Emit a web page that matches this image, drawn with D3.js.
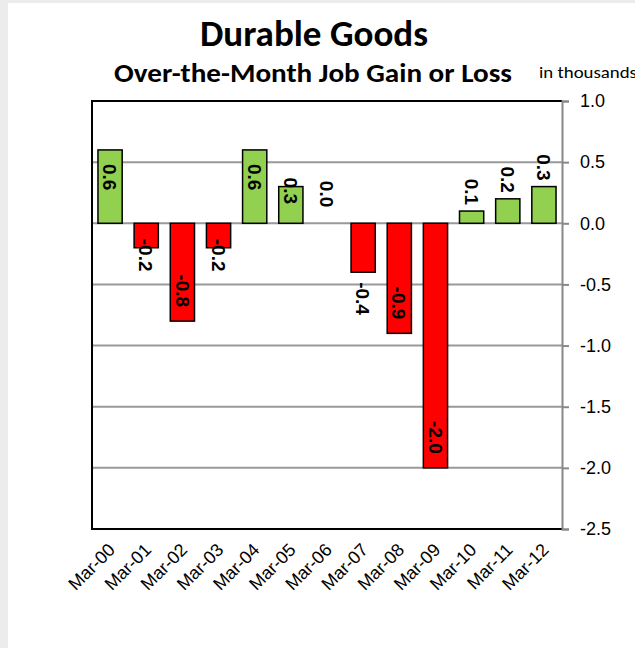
<!DOCTYPE html>
<html>
<head>
<meta charset="utf-8">
<script src="https://cdn.jsdelivr.net/npm/d3@7"></script>
<style>
  body { margin: 0; background: #fff; }
  svg { display: block; }
  .ttl { font-family: Carlito, Lato, "Open Sans", sans-serif; font-weight: bold; fill: #000; }
  .lbl { font-family: "Liberation Sans", Arial, sans-serif; }
</style>
</head>
<body>
<div id="chart"></div>
<script>
const categories = ["Mar-00","Mar-01","Mar-02","Mar-03","Mar-04","Mar-05","Mar-06",
                    "Mar-07","Mar-08","Mar-09","Mar-10","Mar-11","Mar-12"];
const values = [0.6, -0.2, -0.8, -0.2, 0.6, 0.3, 0.0, -0.4, -0.9, -2.0, 0.1, 0.2, 0.3];
// where excel put each data label
const labelPlace = ["inside","edge","inside","edge","inside","edge","outside",
                    "outside","inside","inside","outside","outside","outside"];
const yTicks = [1.0, 0.5, 0.0, -0.5, -1.0, -1.5, -2.0, -2.5];

const width = 635;
const height = 648;
const plot = { left: 92, right: 562, top: 101, bottom: 529 };

const svg = d3.select("#chart")
              .append("svg")
              .attr("width", width)
              .attr("height", height);

// faint frame of the screenshot
svg.append("rect").attr("width", width).attr("height", height).attr("fill", "#ececec");
svg.append("rect").attr("x", 8).attr("y", 3).attr("width", width - 8).attr("height", height - 3).attr("fill", "#fff");

const x = d3.scaleBand()
            .domain(categories)
            .range([plot.left, plot.right])
            .paddingInner(0.33)
            .paddingOuter(0.165);

const y = d3.scaleLinear()
            .domain([-2.5, 1.0])
            .range([plot.bottom, plot.top]);

// titles
svg.append("text").attr("class", "ttl")
   .attr("x", 314).attr("y", 46)
   .attr("text-anchor", "middle")
   .attr("font-size", 36)
   .attr("textLength", 228)
   .attr("lengthAdjust", "spacingAndGlyphs")
   .text("Durable Goods");
svg.append("text").attr("class", "ttl")
   .attr("x", 313).attr("y", 82)
   .attr("text-anchor", "middle")
   .attr("font-size", 26)
   .attr("textLength", 398)
   .attr("lengthAdjust", "spacingAndGlyphs")
   .text("Over-the-Month Job Gain or Loss");
svg.append("text")
   .attr("x", 539).attr("y", 78)
   .attr("font-family", "Carlito, Lato, sans-serif")
   .attr("font-size", 17)
   .attr("textLength", 98)
   .attr("lengthAdjust", "spacingAndGlyphs")
   .text("in thousands");

// gridlines
svg.append("g")
   .selectAll("line")
   .data(yTicks.filter(t => t < 1.0 && t > -2.5))
   .join("line")
   .attr("x1", plot.left).attr("x2", plot.right)
   .attr("y1", d => y(d)).attr("y2", d => y(d))
   .attr("stroke", "#999").attr("stroke-width", 2);

// frame: top, left, bottom in black
svg.append("path")
   .attr("d", `M${plot.right},${plot.top}H${plot.left}V${plot.bottom}H${plot.right}`)
   .attr("fill", "none").attr("stroke", "#000").attr("stroke-width", 2);

// right value axis
const yAxis = d3.axisRight(y)
                .tickValues(yTicks)
                .tickSize(7)
                .tickPadding(11)
                .tickFormat(d3.format(".1f"));

const ay = svg.append("g")
              .attr("transform", `translate(${plot.right},0)`)
              .call(yAxis);
ay.select(".domain").attr("stroke", "#888").attr("stroke-width", 2);
ay.selectAll(".tick line").attr("stroke", "#888").attr("stroke-width", 2);
ay.selectAll(".tick text")
  .attr("font-family", "Liberation Sans, Arial, sans-serif")
  .attr("font-size", 18)
  .attr("fill", "#000")
  .text(d => d3.format(".1f")(d).replace("−", "-"));

// bars
svg.append("g")
   .selectAll("rect")
   .data(values)
   .join("rect")
   .attr("x", (d, i) => x(categories[i]))
   .attr("y", d => y(Math.max(0, d)))
   .attr("width", x.bandwidth())
   .attr("height", d => Math.abs(y(d) - y(0)))
   .attr("fill", d => d < 0 ? "#ff0000" : "#92d050")
   .attr("stroke", "#000")
   .attr("stroke-width", 1.5);

// data labels, rotated
function labelPos(d, i){
  const place = labelPlace[i];
  if(d > 0){
    const top = y(d);
    if(place === "inside") return { y: top + 14, anchor: "start" };
    if(place === "edge") return { y: top - 9, anchor: "start" };
    return { y: top - 6, anchor: "end" };
  }
  if(d === 0) return { y: y(0) - 16, anchor: "end" };
  const bottom = y(d);
  if(place === "inside") return { y: bottom - 14, anchor: "end" };
  if(place === "edge") return { y: bottom - 9, anchor: "start" };
  return { y: bottom + 10, anchor: "start" };
}

svg.append("g")
   .selectAll("text")
   .data(values)
   .join("text")
   .attr("class", "lbl")
   .attr("font-weight", "bold")
   .attr("font-size", 19)
   .attr("text-anchor", (d, i) => labelPos(d, i).anchor)
   .attr("dy", "0.36em")
   .attr("transform", (d, i) => `translate(${x(categories[i]) + x.bandwidth() / 2},${labelPos(d, i).y}) rotate(90)`)
   .text(d => d3.format(".1f")(d).replace("−", "-"));

// category labels
svg.append("g")
   .selectAll("text")
   .data(categories)
   .join("text")
   .attr("class", "lbl")
   .attr("font-size", 18)
   .attr("text-anchor", "end")
   .attr("transform", d => `translate(${x(d) + x.bandwidth() / 2 + 6},${plot.bottom + 22}) rotate(-45)`)
   .text(d => d);
</script>
</body>
</html>
